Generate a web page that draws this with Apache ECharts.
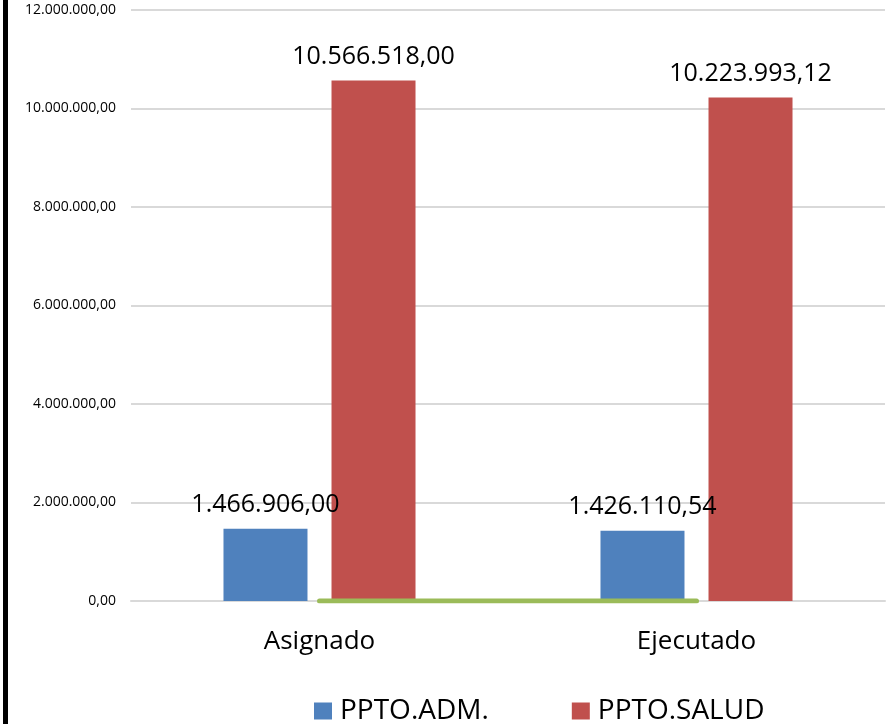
<!DOCTYPE html>
<html>
<head>
<meta charset="utf-8">
<script src="https://cdn.jsdelivr.net/npm/echarts@6/dist/echarts.min.js"></script>
<style>
html,body{margin:0;padding:0;background:#fff;}
#chart{width:889px;height:724px;}
</style>
</head>
<body>
<div id="chart"></div>
<script>
const categories = ['Asignado', 'Ejecutado'];
const pptoAdm = [1466906.00, 1426110.54];
const pptoSalud = [10566518.00, 10223993.12];
const baseLine = [0, 0];
const yTicks = { min: 0, max: 12000000, interval: 2000000 };

function fmt(v) {
  const parts = Number(v).toFixed(2).split('.');
  const intPart = parts[0].replace(/\B(?=(\d{3})+(?!\d))/g, '.');
  return intPart + ',' + parts[1];
}

const FONT = '"Open Sans", sans-serif';
const chart = echarts.init(document.getElementById('chart'), null, { renderer: 'canvas' });
chart.setOption({
  animation: false,
  backgroundColor: '#ffffff',
  graphic: [{
    type: 'rect', left: 3, top: 0,
    shape: { width: 5, height: 724 },
    style: { fill: '#000000' }, silent: true
  }],
  grid: { left: 131, right: 4, top: 10, bottom: 123 },
  legend: {
    data: ['PPTO.ADM.', 'PPTO.SALUD'],
    left: 309, top: 692,
    itemWidth: 18, itemHeight: 17, itemGap: 83,
    icon: 'rect',
    textStyle: { fontFamily: FONT, fontSize: 28, color: '#000', padding: [0, 0, 0, 3] }
  },
  xAxis: {
    type: 'category',
    data: categories,
    axisLine: { lineStyle: { color: '#d9d9d9', width: 2 } },
    axisTick: { show: false },
    axisLabel: { fontFamily: FONT, fontSize: 26, color: '#000', margin: 28 }
  },
  yAxis: {
    type: 'value',
    min: yTicks.min, max: yTicks.max, interval: yTicks.interval,
    axisLine: { show: false },
    axisTick: { show: false },
    splitLine: { lineStyle: { color: '#d9d9d9', width: 2 } },
    axisLabel: { fontFamily: FONT, fontSize: 14, color: '#000', margin: 15, formatter: fmt }
  },
  series: [
    {
      name: 'PPTO.ADM.', type: 'bar', data: pptoAdm,
      barWidth: 84, barGap: '28.6%',
      itemStyle: { color: '#4F81BD' },
      label: { show: true, position: 'top', distance: 11, fontFamily: FONT, fontSize: 25, color: '#000', formatter: p => fmt(p.value) }
    },
    {
      name: 'PPTO.SALUD', type: 'bar', data: pptoSalud,
      barWidth: 84, barGap: '28.6%',
      itemStyle: { color: '#C0504D' },
      label: { show: true, position: 'top', distance: 11, fontFamily: FONT, fontSize: 25, color: '#000', formatter: p => fmt(p.value) }
    },
    {
      name: 'base', type: 'line', data: baseLine,
      symbol: 'none',
      lineStyle: { color: '#9BBB59', width: 5, cap: 'round' },
      z: 5
    }
  ]
});
</script>
</body>
</html>
